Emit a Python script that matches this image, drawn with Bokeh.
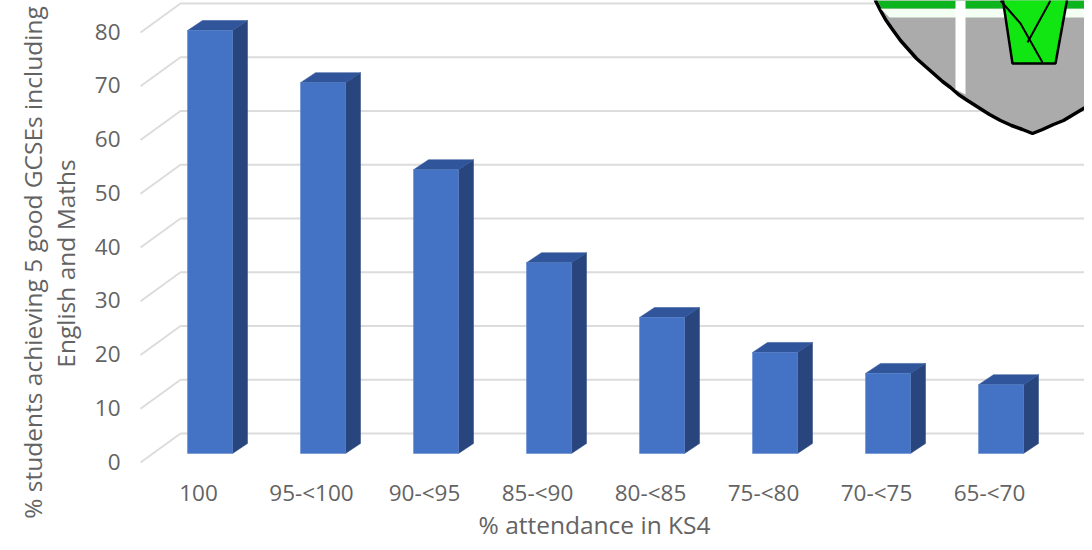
from bokeh.plotting import figure
from bokeh.embed import file_html
from bokeh.resources import INLINE
from bokeh.models import Range1d, Label
from bokeh.core.properties import value

categories = ["100", "95-<100", "90-<95", "85-<90", "80-<85", "75-<80", "70-<75", "65-<70"]
values = [78.7, 69.0, 52.8, 35.5, 25.3, 18.8, 14.9, 12.8]
y_ticks = [0, 10, 20, 30, 40, 50, 60, 70, 80]
y_title = ["% students achieving 5 good GCSEs including", "English and Maths"]
x_title = "% attendance in KS4"

FONT = "Open Sans"
TXT = "#636363"
W, H = 1084, 542
PX_X, PX_Y = 113.0, 5.375  # pixels per category / per unit
X0, Y0 = 198.0, 462.0      # picture pixel of category 0 / value 0


def dx(px):
    return px / PX_X


def dy(px):
    return px / PX_Y


def sx(px):
    return (px - X0) / PX_X


def sy(px):
    return (Y0 - px) / PX_Y


p = figure(width=W, height=H, output_backend="svg", toolbar_location=None,
           x_range=Range1d(sx(0), sx(W)), y_range=Range1d(sy(H), sy(0)),
           x_axis_location=None, y_axis_location=None,
           min_border=0, outline_line_color=None,
           background_fill_color="white", border_fill_color="white")
p.grid.visible = False

# walls: side strokes and back gridlines
GRID = "#dcdcdc"
xs, ys = [], []
for v in y_ticks:
    xs.append([sx(140), sx(180), sx(1085)])
    ys.append([v, v + dy(29), v + dy(29)])
p.multi_line(xs, ys, line_color=GRID, line_width=2)

# bars
FRONT, SIDE, TOP = "#4472c4", "#28467d", "#30559a"
off_x, half, base = dx(11.5), dx(22.5), dy(9)
ddx, ddy = dx(15), dy(10)
cx = [i + off_x for i in range(len(values))]
tops = [v + base for v in values]
p.patches([[c + half, c + half + ddx, c + half + ddx, c + half] for c in cx],
          [[base, base + ddy, t + ddy, t] for t in tops],
          fill_color=SIDE, line_color=SIDE, line_width=0.5)
p.patches([[c - half, c + half, c + half + ddx, c - half + ddx] for c in cx],
          [[t, t, t + ddy, t + ddy] for t in tops],
          fill_color=TOP, line_color=TOP, line_width=0.5)
p.vbar(x=cx, bottom=base, top=tops, width=2 * half,
       fill_color=FRONT, line_color="#5b84cc", line_width=0.5)

# tick labels
p.text(x=[sx(120)] * len(y_ticks), y=[v + dy(1) for v in y_ticks], text=[str(v) for v in y_ticks],
       text_font=value(FONT), text_font_size="22.5px", text_color=TXT,
       text_align="right", text_baseline="middle")
p.text(x=list(range(len(categories))), y=[sy(492)] * len(categories), text=categories,
       text_font=value(FONT), text_font_size="22.5px", text_color=TXT,
       text_align="center", text_baseline="middle")

# school crest, clipped by the corner of the picture
shield_x = [875, 880, 885, 892, 900, 908, 916, 925, 933, 942, 950, 958, 967, 978, 989, 1000,
            1011, 1022, 1032, 1042, 1053, 1063, 1073, 1083, 1094, 1094, 875]
shield_y = [0, 10, 19, 29, 40, 49, 58, 66, 73, 81, 87, 94, 100, 107, 114, 120,
            125, 129, 133, 129, 124, 120, 114, 108, 102, -4, -4]
p.patch([sx(a) for a in shield_x], [sy(a) for a in shield_y],
        fill_color="#ababab", line_color="black", line_width=3.5)
p.patch([sx(a) for a in [880, 1092, 1092, 889]], [sy(a) for a in [8, 8, 17, 17]],
        fill_color="#f4fff4", line_color=None)
p.patch([sx(a) for a in [877, 1092, 1092, 881]], [sy(a) for a in [0, 0, 8, 8]],
        fill_color="#0cb41e", line_color=None)
p.patch([sx(a) for a in [955, 965, 965, 955]], [sy(a) for a in [0, 0, 94, 89]],
        fill_color="white", line_color=None)
p.patch([sx(a) for a in [1002, 1012, 1055, 1067]], [sy(a) for a in [-3, 63, 63, -3]],
        fill_color="#12e612", line_color="black", line_width=2.5)
p.multi_line([[sx(1000), sx(1020), sx(1042)], [sx(1050), sx(1027)]],
             [[sy(0), sy(23), sy(62)], [sy(0), sy(42)]],
             line_color="black", line_width=2)

# titles
TITLE = dict(text_font=FONT, text_font_size="24.5px", text_color=TXT,
             text_align="center", text_baseline="middle")
p.add_layout(Label(x=sx(32), y=sy(262), text=y_title[0], angle=90, angle_units="deg", **TITLE))
p.add_layout(Label(x=sx(65), y=sy(263), text=y_title[1], angle=90, angle_units="deg", **TITLE))
p.add_layout(Label(x=sx(594), y=sy(524), text=x_title, **TITLE))

open("out.html", "w").write(file_html(p, INLINE))
